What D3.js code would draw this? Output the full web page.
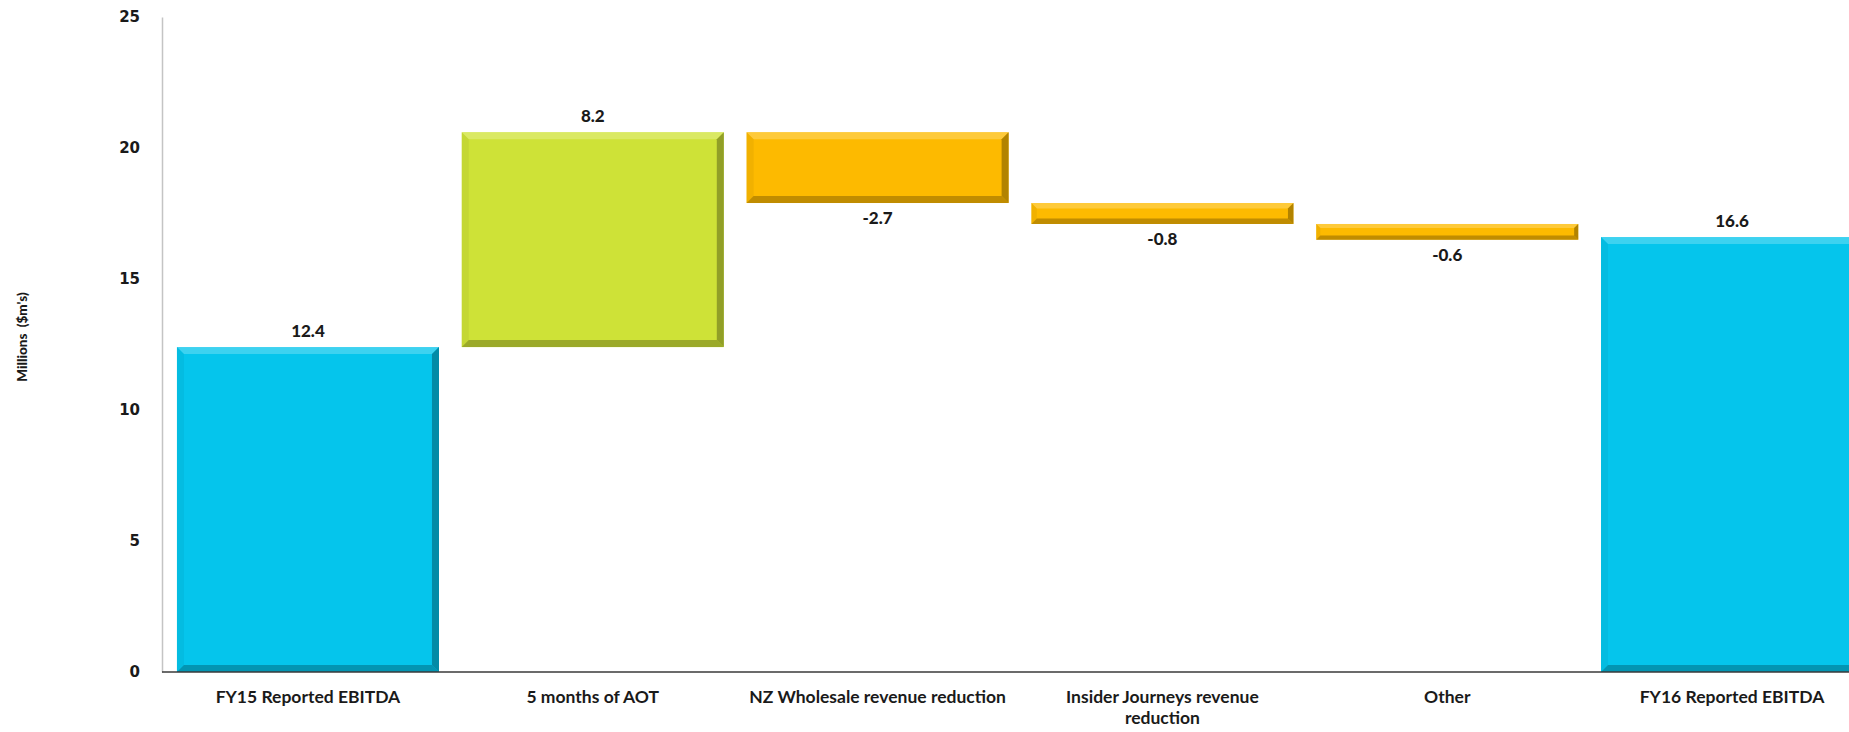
<!DOCTYPE html>
<html>
<head>
<meta charset="utf-8">
<script src="https://cdn.jsdelivr.net/npm/d3@7"></script>
<style>
  html, body { margin: 0; padding: 0; background: #fff; }
  svg { display: block; }
</style>
</head>
<body>
<div id="chart"></div>
<script>
// DATA
var categories = ["FY15 Reported EBITDA", "5 months of AOT", "NZ Wholesale revenue reduction",
                  "Insider Journeys revenue reduction", "Other", "FY16 Reported EBITDA"];
var categoryLines = [["FY15 Reported EBITDA"], ["5 months of AOT"], ["NZ Wholesale revenue reduction"],
                     ["Insider Journeys revenue", "reduction"], ["Other"], ["FY16 Reported EBITDA"]];
var values = [12.4, 8.2, -2.7, -0.8, -0.6, 16.6];
var kinds = ["total", "up", "down", "down", "down", "total"];
var yTicks = [0, 5, 10, 15, 20, 25];
var yTitle = "Millions  ($m's)";

var colors = { total: "#05c5ec", up: "#cee237", down: "#fdba00" };

var width = 1849,
    height = 732;

var svg = d3.select("#chart").append("svg")
    .attr("width", width)
    .attr("height", height);

// SCALES
var x = d3.scaleBand()
    .domain(categories)
    .range([162, 1878])
    .paddingInner(0.08)
    .paddingOuter(0.0525);

var y = d3.scaleLinear()
    .domain([0, 25])
    .range([672, 17]);

// running totals for the waterfall
var run = 0;
var bars = values.map(function(v, i) {
    var start, end;
    if (kinds[i] == "total") {
        start = 0; end = v; run = v;
    } else {
        start = run; end = run + v; run = end;
    }
    return { cat: categories[i], value: v, kind: kinds[i], lo: Math.min(start, end), hi: Math.max(start, end) };
});

// Y AXIS (light line, no ticks)
var yAxis = d3.axisLeft(y).tickValues(yTicks).tickSize(0).tickPadding(22);
var gy = svg.append("g")
    .attr("transform", "translate(162,0)")
    .call(yAxis);
gy.select(".domain").attr("stroke", "#c4c4c4").attr("stroke-width", 1.5);
gy.selectAll("text")
    .attr("font-family", "'DejaVu Sans', Verdana, sans-serif")
    .attr("font-weight", "bold")
    .attr("font-size", 15)
    .attr("fill", "#1a1a1a");

svg.append("text")
    .attr("transform", "translate(24," + 337 + ") rotate(-90)")
    .attr("text-anchor", "middle")
    .attr("dominant-baseline", "middle")
    .attr("font-family", "Lato, 'Open Sans', sans-serif")
    .attr("font-weight", "900")
    .attr("font-size", 13.5)
    .attr("fill", "#1a1a1a")
    .style("white-space", "pre")
    .text(yTitle);

// BARS with a bevel look
var barG = svg.append("g").attr("class", "bars")
    .selectAll("g")
    .data(bars)
    .enter().append("g");

barG.each(function(d) {
    var g = d3.select(this);
    var x0 = x(d.cat), x1 = x0 + x.bandwidth();
    var y0 = y(d.hi), y1 = y(d.lo);
    var h = y1 - y0;
    var b = Math.min(7, h * 0.26);
    var base = d3.color(colors[d.kind]);
    var light = d3.interpolateRgb(base, "#ffffff")(0.3);
    var dark = base.darker(1.2);
    var mid = base.darker(0.4);

    g.append("rect")
        .attr("x", x0).attr("y", y0)
        .attr("width", x1 - x0).attr("height", h)
        .attr("fill", base);
    // top highlight
    g.append("polygon")
        .attr("points", [[x0, y0], [x1, y0], [x1 - b, y0 + b], [x0 + b, y0 + b]].join(" "))
        .attr("fill", light).attr("opacity", 0.75);
    // left edge
    g.append("polygon")
        .attr("points", [[x0, y0], [x0 + b, y0 + b], [x0 + b, y1 - b], [x0, y1]].join(" "))
        .attr("fill", mid).attr("opacity", 0.35);
    // right edge
    g.append("polygon")
        .attr("points", [[x1, y0], [x1, y1], [x1 - b, y1 - b], [x1 - b, y0 + b]].join(" "))
        .attr("fill", dark).attr("opacity", 0.85);
    // bottom edge
    g.append("polygon")
        .attr("points", [[x0, y1], [x1, y1], [x1 - b, y1 - b], [x0 + b, y1 - b]].join(" "))
        .attr("fill", dark).attr("opacity", 0.7);
});

// VALUE LABELS
svg.append("g").selectAll("text")
    .data(bars)
    .enter().append("text")
    .attr("x", function(d) { return x(d.cat) + x.bandwidth() / 2; })
    .attr("y", function(d) { return d.kind == "down" ? y(d.lo) + 21 : y(d.hi) - 10; })
    .attr("text-anchor", "middle")
    .attr("font-family", "Lato, 'Open Sans', sans-serif")
    .attr("font-weight", "900")
    .attr("font-size", 17)
    .attr("fill", "#1a1a1a")
    .text(function(d) { return d.value.toFixed(1); });

// X AXIS
svg.append("line")
    .attr("x1", 162).attr("x2", width)
    .attr("y1", y(0)).attr("y2", y(0))
    .attr("stroke", "#3a3a3a")
    .attr("stroke-width", 1.5);

var cat = svg.append("g").selectAll("text")
    .data(categories)
    .enter().append("text")
    .attr("x", function(d) { return x(d) + x.bandwidth() / 2; })
    .attr("y", 703)
    .attr("text-anchor", "middle")
    .attr("font-family", "Lato, 'Open Sans', sans-serif")
    .attr("font-weight", "bold")
    .attr("font-size", 17.5)
    .attr("fill", "#1a1a1a");

cat.each(function(d, i) {
    var t = d3.select(this);
    categoryLines[i].forEach(function(line, j) {
        t.append("tspan")
            .attr("x", x(d) + x.bandwidth() / 2)
            .attr("dy", j == 0 ? 0 : 21)
            .text(line);
    });
});
</script>
</body>
</html>
